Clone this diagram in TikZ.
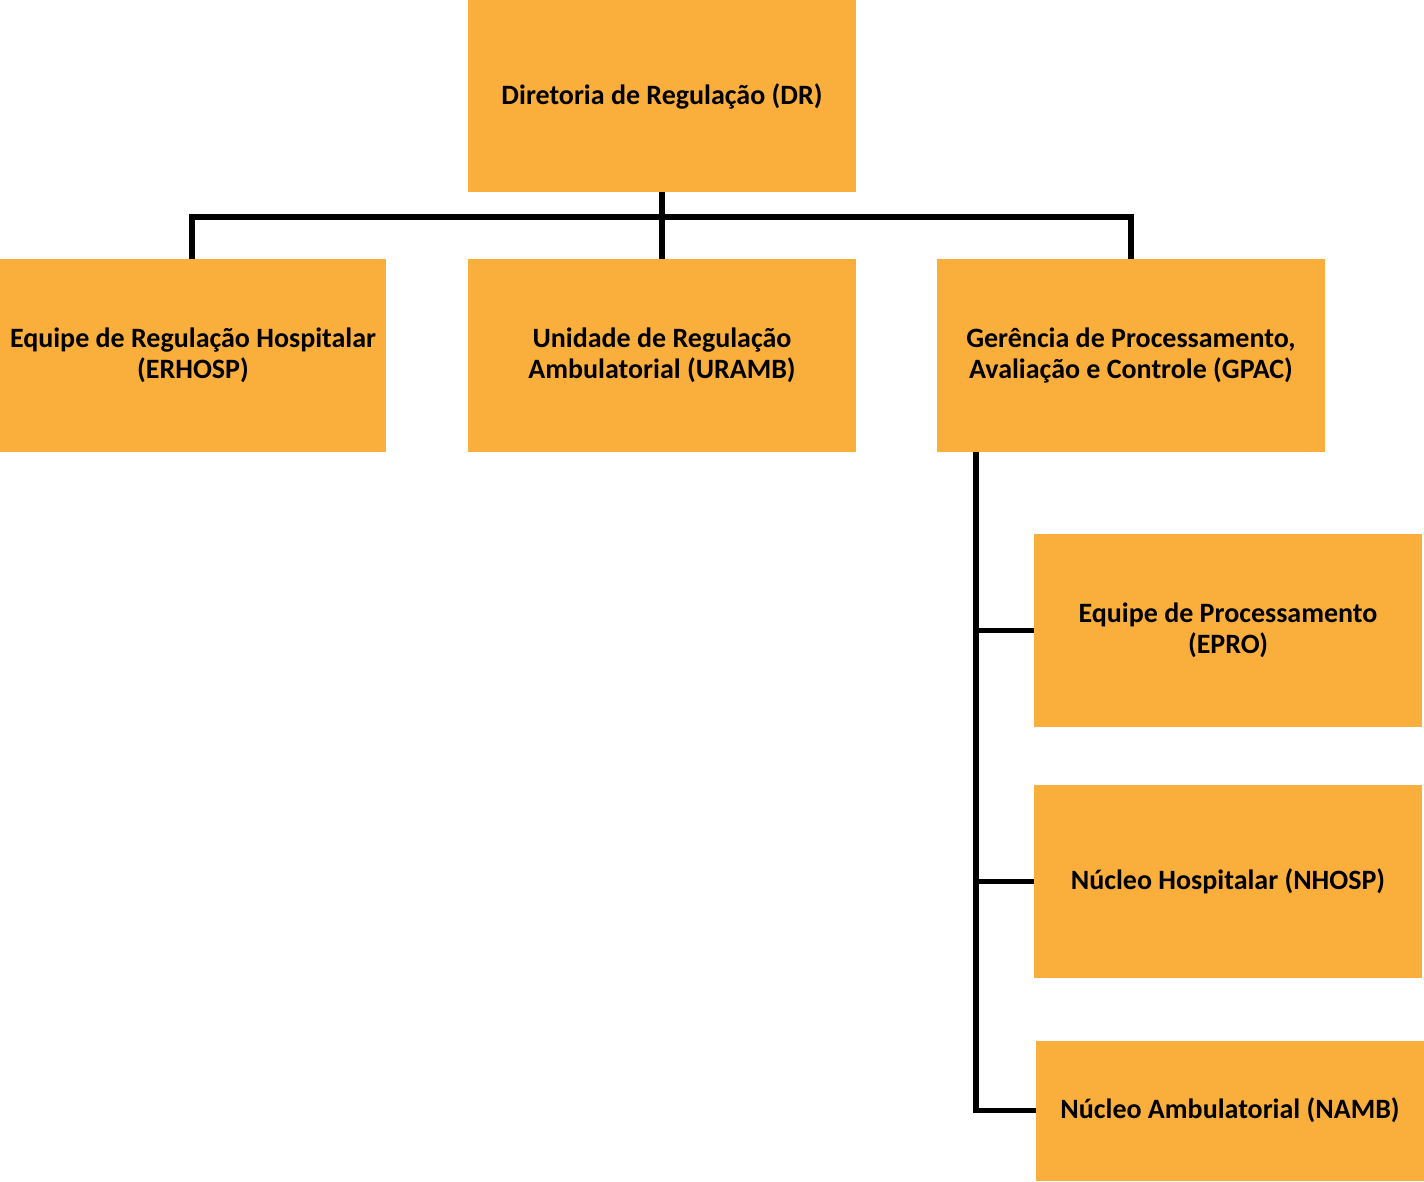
\documentclass[tikz,border=0pt]{standalone}
\usepackage{fontspec}
\setmainfont{Carlito}
\definecolor{boxorange}{HTML}{FAAF3C}
\begin{document}
\begin{tikzpicture}[x=1pt,y=-1pt,
  orgbox/.style={fill=boxorange, draw=none, inner sep=0pt, minimum width=388pt, minimum height=193pt,
    align=center, font=\fontsize{28}{31}\selectfont\bfseries},
  link/.style={draw=black, line width=5.5pt}]
\useasboundingbox (0,0) rectangle (1424,1181);
\node[orgbox, minimum height=192pt] (DR) at (662,96) {Diretoria de Regulação (DR)};
\node[orgbox, minimum width=386pt] (ERHOSP) at (193,355.5) {Equipe de Regulação Hospitalar\\(ERHOSP)};
\node[orgbox] (URAMB) at (662,355.5) {Unidade de Regulação\\Ambulatorial (URAMB)};
\node[orgbox] (GPAC) at (1131,355.5) {Gerência de Processamento,\\Avaliação e Controle (GPAC)};
\node[orgbox] (EPRO) at (1228,630.5) {Equipe de Processamento\\(EPRO)};
\node[orgbox] (NHOSP) at (1228,881.5) {Núcleo Hospitalar (NHOSP)};
\node[orgbox, minimum height=140pt] (NAMB) at (1230,1110.5) {Núcleo Ambulatorial (NAMB)};
\coordinate (bus) at (662,217);
\coordinate (gx) at (976,0);
\draw[link] (DR.south) -- (URAMB.north);
\draw[link] ([xshift=-1pt]ERHOSP.north) |- (bus) -| (GPAC.north);
\draw[link] (GPAC.south -| gx) |- (NAMB.west);
\draw[link] (EPRO.west -| gx) -- (EPRO.west);
\draw[link] (NHOSP.west -| gx) -- (NHOSP.west);
\end{tikzpicture}
\end{document}
